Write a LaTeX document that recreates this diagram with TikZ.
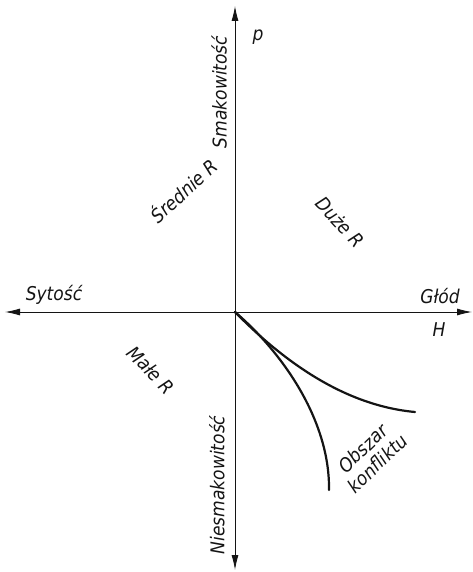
\documentclass[tikz,border=0pt]{standalone}
\usepackage{fontspec}
\setmainfont{DejaVu Sans Condensed}
\usepackage{tikz}
\usetikzlibrary{arrows.meta, positioning, calc}
\definecolor{mydark}{RGB}{20,20,20}
\tikzset{
  axis/.style={-{Latex[length=15pt,width=7pt]}, line width=0.9pt, color=mydark},
  curve/.style={line width=2.2pt, color=mydark, line cap=round},
  lbl/.style={font=\fontsize{19}{21}\selectfont\itshape, color=mydark, inner sep=1pt}
}
\begin{document}
\begin{tikzpicture}[x=1pt, y=-1pt]
  \useasboundingbox (0,0) rectangle (473,572);
  % Axes
  \coordinate (o) at (235,312);
  \coordinate (ptop) at (235,6);
  \coordinate (pbot) at (235,570);
  \coordinate (hleft) at (5,312);
  \coordinate (hright) at (472,312);
  \draw[axis] (o) -- (ptop);
  \draw[axis] (o) -- (pbot);
  \draw[axis] (o) -- (hleft);
  \draw[axis] (o) -- (hright);
  % Curves
  \coordinate (c1) at (415,412);
  \coordinate (c2) at (329,490);
  \draw[curve] (o) .. controls (290,368) and (350,406) .. (c1);
  \draw[curve] (o) .. controls (282,352) and (330,420) .. (c2);
  % Labels
  \node[lbl] (p) at (258,37) {p};
  \node[lbl] (h) at (439,330) {H};
  \node[lbl] (sytosc) at (54,295) {Sytość};
  \node[lbl] (glod) at (440,296) {Głód};
  \node[lbl, rotate=90] (smak) at (219,92) {Smakowitość};
  \node[lbl, rotate=90] (niesmak) at (217,485) {Niesmakowitość};
  \node[lbl, rotate=42] (srednie) at (183,190) {Średnie R};
  \node[lbl, rotate=-47] (duze) at (340,222) {Duże R};
  \node[lbl, rotate=-46] (male) at (151,370) {Małe R};
  \node[lbl, rotate=44, align=center] (obszar) at (370,456) {Obszar\\konfliktu};
\end{tikzpicture}
\end{document}
